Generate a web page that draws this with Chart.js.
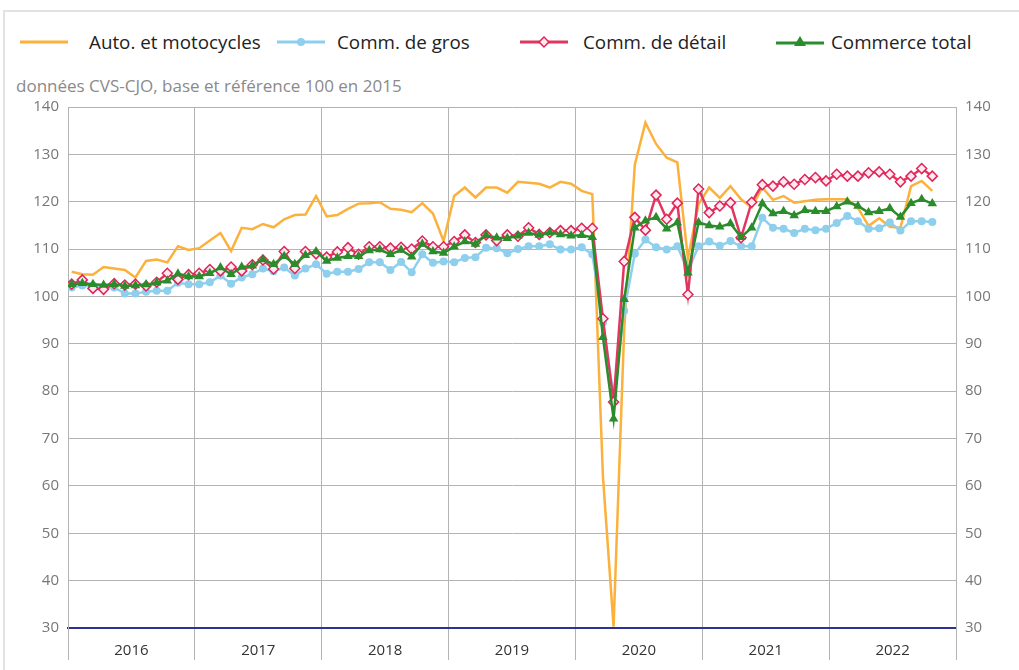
<!DOCTYPE html>
<html lang="fr">
<head>
<meta charset="utf-8">
<script src="https://cdn.jsdelivr.net/npm/chart.js@4.4.1/dist/chart.umd.min.js"></script>
<style>
  html, body { margin:0; padding:0; background:#fff; }
  body { width:1019px; height:670px; position:relative; overflow:hidden; font-family:"Open Sans", sans-serif; }
  #frame { position:absolute; left:3px; top:10px; width:1016px; height:662px; border-top:2px solid #e2e2e2; border-left:2px solid #e2e2e2; box-sizing:border-box; }
  #chart { position:absolute; left:0; top:0; }
  .leg { position:absolute; top:30px; height:24px; display:flex; align-items:center; font-size:18.8px; color:#222; white-space:nowrap; }
  #unit { position:absolute; left:16px; top:74px; font-size:17px; color:#8a8a8a; white-space:nowrap; }
</style>
</head>
<body>
<div id="frame"></div>
<div class="leg" style="left:20px"><svg width="48" height="14"><line x1="0" y1="7" x2="48" y2="7" stroke="#fbb13c" stroke-width="3"/></svg></div>
<div class="leg" style="left:89px">Auto. et motocycles</div>
<div class="leg" style="left:277px"><svg width="48" height="14"><line x1="0" y1="7" x2="48" y2="7" stroke="#8dcfec" stroke-width="3"/><circle cx="24" cy="7" r="4" fill="#8dcfec"/></svg></div>
<div class="leg" style="left:337px">Comm. de gros</div>
<div class="leg" style="left:520px"><svg width="48" height="14"><line x1="0" y1="7" x2="48" y2="7" stroke="#e1375f" stroke-width="3"/><rect x="20.5" y="3.5" width="7" height="7" transform="rotate(45 24 7)" fill="#fde9ee" stroke="#e0245a" stroke-width="1.5"/></svg></div>
<div class="leg" style="left:583px">Comm. de détail</div>
<div class="leg" style="left:776px"><svg width="48" height="14"><line x1="0" y1="8" x2="48" y2="8" stroke="#2a8c2a" stroke-width="3"/><polygon points="24,1 30,11 18,11" fill="#2a8c2a"/></svg></div>
<div class="leg" style="left:831px">Commerce total</div>
<div id="unit">données CVS-CJO, base et référence 100 en 2015</div>
<canvas id="chart" width="1019" height="670"></canvas>
<script>
// ---- data (monthly, Jan 2016 .. Oct 2022) ----
const years = ['2016','2017','2018','2019','2020','2021','2022'];
const seriesNames = ['Auto. et motocycles','Comm. de gros','Comm. de détail','Commerce total'];

const auto = [105.2,104.7,104.6,106.2,105.9,105.6,104.0,107.5,107.8,107.2,110.6,109.8,
  110.2,111.8,113.4,109.6,114.5,114.2,115.3,114.6,116.3,117.2,117.3,121.2,
  116.9,117.2,118.5,119.6,119.7,119.9,118.5,118.3,117.8,119.7,117.5,111.7,
  121.2,123.0,120.9,123.0,123.0,121.9,124.2,124.0,123.8,123.0,124.2,123.8,
  122.3,121.6,62.0,30.3,93.0,127.8,136.7,132.2,129.3,128.3,108.0,119.5,
  123.0,120.8,123.3,120.5,118.8,123.0,120.4,121.2,119.8,120.1,120.4,120.5,
  120.5,120.5,118.7,114.9,116.5,114.7,114.5,123.3,124.4,122.3];

const gros = [101.9,102.3,102.3,101.9,101.9,100.6,100.6,101.0,101.2,101.2,102.9,102.6,
  102.6,103.0,104.4,102.7,104.0,104.7,105.9,105.3,106.1,104.4,105.9,106.8,
  104.8,105.2,105.2,105.8,107.2,107.2,105.6,107.3,105.1,108.9,107.1,107.4,
  107.2,108.1,108.3,110.3,110.2,109.1,110.0,110.6,110.6,111.0,109.9,109.9,
  110.4,108.9,94.5,79.0,97.0,109.0,112.0,110.4,109.9,110.6,105.5,110.6,
  111.6,110.7,111.7,110.6,110.6,116.6,114.5,114.3,113.4,114.3,114.0,114.3,
  115.5,117.0,115.9,114.3,114.4,115.6,113.9,115.9,115.9,115.7];

const detail = [102.6,103.5,101.7,101.5,102.7,102.4,102.6,102.2,103.0,104.9,103.6,104.6,
  104.9,105.7,105.4,106.2,105.4,106.7,107.7,105.8,109.5,105.9,109.5,109.0,
  108.3,109.4,110.3,108.9,110.5,110.5,110.2,110.4,110.0,111.7,110.5,110.5,
  111.6,113.0,111.4,113.0,111.8,113.0,112.7,114.5,113.1,113.5,113.9,113.9,
  114.4,114.4,95.3,77.7,107.4,116.7,114.0,121.4,116.3,119.7,100.4,122.7,
  117.7,119.1,119.8,112.4,119.9,123.6,123.3,124.2,123.7,124.7,125.1,124.4,
  125.8,125.4,125.4,126.1,126.3,125.8,124.2,125.4,127.0,125.4];

const total = [102.6,102.8,102.6,102.4,102.6,102.2,102.3,102.5,102.9,103.3,104.8,104.2,
  104.2,104.9,106.1,104.7,106.2,106.5,107.8,106.8,108.5,106.8,108.7,109.5,
  107.5,108.1,108.5,108.5,109.7,109.9,108.9,109.8,108.4,111.1,109.5,109.2,
  110.5,111.6,111.1,112.9,112.4,112.3,112.8,113.4,113.0,113.5,113.1,112.8,
  112.9,112.5,91.4,74.2,99.4,114.5,116.0,116.7,114.3,115.6,105.0,115.6,
  115.0,114.7,115.4,112.5,114.5,119.6,117.5,118.0,117.1,118.2,118.0,118.0,
  119.0,120.0,119.1,117.7,118.0,118.6,116.8,119.7,120.5,119.6];

const yTicks = {min:30, max:140, step:10};

const toPts = arr => arr.map((v,i) => ({x:i, y:v}));
const GRID = '#b3b3b3';
const yFont = {family:'"Open Sans", sans-serif', size:15};
const xFont = {family:'"Open Sans", sans-serif', size:15};

new Chart(document.getElementById('chart'), {
  type:'line',
  data:{
    datasets:[
      {label:seriesNames[0], data:toPts(auto), borderColor:'#fbb13c', borderWidth:2.5, pointRadius:0, order:3},
      {label:seriesNames[1], data:toPts(gros), borderColor:'#8dcfec', backgroundColor:'#8dcfec', borderWidth:2.5,
        pointStyle:'circle', pointRadius:4, pointBorderWidth:0, order:2},
      {label:seriesNames[2], data:toPts(detail), borderColor:'#e1375f', borderWidth:2.5,
        pointStyle:'rectRot', pointRadius:5, pointBackgroundColor:'#fde9ee', pointBorderColor:'#e0245a', pointBorderWidth:1.5, order:1},
      {label:seriesNames[3], data:toPts(total), borderColor:'#2a8c2a', backgroundColor:'#2a8c2a', borderWidth:2.5,
        pointStyle:'triangle', pointRadius:5.5, pointBorderWidth:0, order:0}
    ]
  },
  options:{
    responsive:false, animation:false,
    layout:{padding:{top:107, left:0, right:0, bottom:0}},
    plugins:{legend:{display:false}, tooltip:{enabled:false}, title:{display:false}},
    elements:{line:{tension:0}},
    scales:{
      x:{type:'linear', min:-0.348, max:83.23, display:false},
      years:{type:'linear', axis:'x', position:'bottom', min:0, max:years.length,
        afterBuildTicks: s => { const t=[]; for(let k=0;k<=years.length*2;k++) t.push({value:k/2}); s.ticks=t; },
        afterFit: s => { s.height = 42; },
        grid:{ color: c => (c.tick && Number.isInteger(c.tick.value)) ? GRID : 'rgba(0,0,0,0)',
               tickColor: c => (c.tick && Number.isInteger(c.tick.value)) ? GRID : 'rgba(0,0,0,0)',
               lineWidth:1, tickLength:32, drawTicks:true },
        border:{color:'#2e3192', width:2},
        ticks:{autoSkip:false, maxRotation:0, padding:-18, color:'#333', font:xFont,
               callback: v => Number.isInteger(v) ? '' : years[Math.floor(v)]}
      },
      y:{position:'left', min:yTicks.min, max:yTicks.max,
        afterFit: s => { s.width = 68; },
        ticks:{stepSize:yTicks.step, padding:9, color:'#777', font:yFont},
        grid:{ color: c => (c.tick && c.tick.value === yTicks.min) ? 'rgba(0,0,0,0)' : GRID, lineWidth:1, drawTicks:false },
        border:{color:GRID, width:1}
      },
      y2:{position:'right', min:yTicks.min, max:yTicks.max,
        afterFit: s => { s.width = 63; },
        ticks:{stepSize:yTicks.step, padding:9, color:'#777', font:yFont},
        grid:{drawOnChartArea:false, drawTicks:false},
        border:{color:GRID, width:1}
      }
    }
  }
});
</script>
</body>
</html>
